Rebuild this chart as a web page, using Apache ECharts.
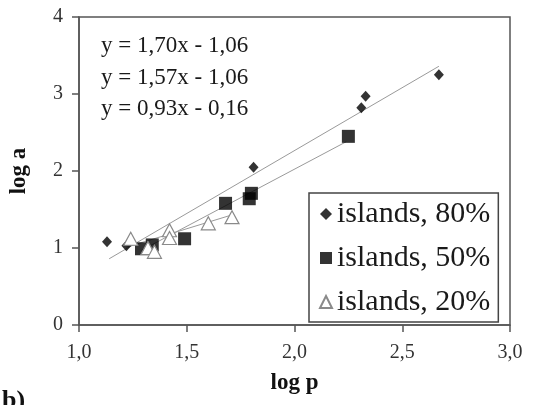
<!DOCTYPE html>
<html>
<head>
<meta charset="utf-8">
<script src="https://cdn.jsdelivr.net/npm/echarts@6/dist/echarts.min.js"></script>
<style>
  html, body { margin: 0; padding: 0; background: #fff; }
  #chart { width: 540px; height: 405px; }
</style>
</head>
<body>
<div id="chart"></div>
<script>
// log p / log a values
var islands80X = [1.13, 1.22, 1.81, 2.31, 2.33, 2.67];
var islands80Y = [1.08, 1.03, 2.05, 2.82, 2.97, 3.25];

var islands50X = [1.29, 1.34, 1.49, 1.68, 1.79, 1.80, 2.25];
var islands50Y = [0.99, 1.04, 1.12, 1.58, 1.64, 1.71, 2.45];

var islands20X = [1.24, 1.32, 1.35, 1.42, 1.42, 1.60, 1.71];
var islands20Y = [1.12, 1.00, 0.95, 1.23, 1.13, 1.32, 1.40];

// trend line end points as drawn
var trend80 = [[1.14, 0.86], [2.67, 3.36]];
var trend50 = [[1.29, 0.97], [2.24, 2.38]];
var trend20 = [[1.22, 1.01], [1.71, 1.43]];

var equations = ['y = 1,70x - 1,06', 'y = 1,57x - 1,06', 'y = 0,93x - 0,16'];
var seriesNames = ['islands, 80%', 'islands, 50%', 'islands, 20%'];

var serif = '"Liberation Serif", "DejaVu Serif", serif';

function pairs(xs, ys) {
  var out = [];
  for (var i = 0; i < xs.length; i++) out.push([xs[i], ys[i]]);
  return out;
}

function trendLine(pts) {
  return {
    type: 'line', data: pts, symbol: 'none', silent: true,
    lineStyle: { color: '#9a9a9a', width: 1 }, z: 1
  };
}

var chart = echarts.init(document.getElementById('chart'));

chart.setOption({
  animation: false,
  backgroundColor: '#fff',
  grid: {
    left: 75, right: 30, top: 17, bottom: 80,
    show: true, borderColor: '#555', borderWidth: 1.5
  },
  xAxis: {
    type: 'value', min: 1, max: 3, interval: 0.5,
    name: 'log p', nameLocation: 'middle', nameGap: 47,
    nameTextStyle: { fontFamily: serif, fontSize: 23, fontWeight: 'bold', color: '#111' },
    axisLine: { lineStyle: { color: '#555', width: 1.5 } },
    axisTick: { inside: false, length: 7, lineStyle: { color: '#555', width: 1.5 } },
    axisLabel: {
      margin: 18, fontFamily: serif, fontSize: 20, color: '#333',
      formatter: function (v) { return v.toFixed(1).replace('.', ','); }
    },
    splitLine: { show: false }
  },
  yAxis: {
    type: 'value', min: 0, max: 4, interval: 1,
    name: 'log a', nameLocation: 'middle', nameGap: 48, nameRotate: 90,
    nameTextStyle: { fontFamily: serif, fontSize: 23, fontWeight: 'bold', color: '#111' },
    axisLine: { show: true, lineStyle: { color: '#555', width: 1.5 } },
    axisTick: { show: true, inside: false, length: 7, lineStyle: { color: '#555', width: 1.5 } },
    axisLabel: { margin: 16, fontFamily: serif, fontSize: 20, color: '#333' },
    splitLine: { show: false }
  },
  legend: {
    orient: 'vertical', left: 309, top: 193,
    data: seriesNames,
    backgroundColor: '#fff', borderColor: '#444', borderWidth: 1.5,
    padding: [6, 8, 5, 10], itemGap: 14, itemWidth: 12, itemHeight: 12,
    textStyle: { fontFamily: serif, fontSize: 30, color: '#1a1a1a' }
  },
  graphic: [
    { type: 'text', left: 101, top: 34, style: { text: equations[0], font: '23px ' + serif, fill: '#1a1a1a' } },
    { type: 'text', left: 101, top: 66, style: { text: equations[1], font: '23px ' + serif, fill: '#1a1a1a' } },
    { type: 'text', left: 101, top: 97, style: { text: equations[2], font: '23px ' + serif, fill: '#1a1a1a' } },
    { type: 'text', left: 2, top: 388, style: { text: 'b)', font: 'bold 26px ' + serif, fill: '#111' } }
  ],
  series: [
    trendLine(trend80),
    trendLine(trend50),
    trendLine(trend20),
    {
      name: seriesNames[0], type: 'scatter', data: pairs(islands80X, islands80Y),
      symbol: 'diamond', symbolSize: [10, 11],
      itemStyle: { color: '#000' }, z: 3
    },
    {
      name: seriesNames[1], type: 'scatter', data: pairs(islands50X, islands50Y),
      symbol: 'rect', symbolSize: 13,
      itemStyle: { color: '#000' }, z: 3
    },
    {
      name: seriesNames[2], type: 'scatter', data: pairs(islands20X, islands20Y),
      symbol: 'triangle', symbolSize: [14, 13],
      itemStyle: { color: '#fff', borderColor: '#8a8a8a', borderWidth: 1.2, opacity: 1 }, z: 4
    }
  ]
});
</script>
</body>
</html>
